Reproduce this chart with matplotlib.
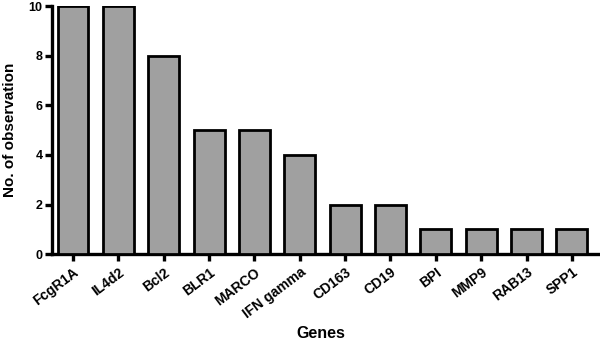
import matplotlib
matplotlib.use("Agg")
import matplotlib.pyplot as plt

genes = ["FcgR1A", "IL4d2", "Bcl2", "BLR1", "MARCO", "IFN gamma",
         "CD163", "CD19", "BPI", "MMP9", "RAB13", "SPP1"]
counts = [10, 10, 8, 5, 5, 4, 2, 2, 1, 1, 1, 1]
yticks = [0, 2, 4, 6, 8, 10]

plt.rcParams['font.family'] = ['Liberation Sans', 'DejaVu Sans']
plt.rcParams['font.weight'] = 'bold'

fig = plt.figure(figsize=(6.0, 3.42), dpi=100)
ax = fig.add_axes([0.087, 0.257, 0.913, 0.725])
x = list(range(len(genes)))
ax.bar(x, counts, width=0.68, color='#a0a0a0', edgecolor='black', linewidth=2.0, zorder=3)
ax.set_xlim(-0.46, 11.62)
ax.set_ylim(0, 10)
ax.set_yticks(yticks)
ax.set_yticklabels([str(v) for v in yticks], fontsize=9, fontweight='bold')
ax.set_xticks(x)
ax.set_xticklabels(genes, rotation=37, ha='right', va='top', rotation_mode='anchor',
                   fontsize=10, fontweight='bold')
for s in ['top', 'right']:
    ax.spines[s].set_visible(False)
for s in ['left', 'bottom']:
    ax.spines[s].set_linewidth(2.4)
ax.tick_params(axis='both', direction='out', length=5, width=2.4, pad=2)
ax.tick_params(axis='x', pad=3)
ax.set_ylabel("No. of observation", fontsize=11, fontweight='bold', labelpad=8)
ax.set_xlabel("Genes", fontsize=11.5, fontweight='bold')
ax.xaxis.set_label_coords(0.49, -0.29)
fig.savefig("out.png", dpi=100)
